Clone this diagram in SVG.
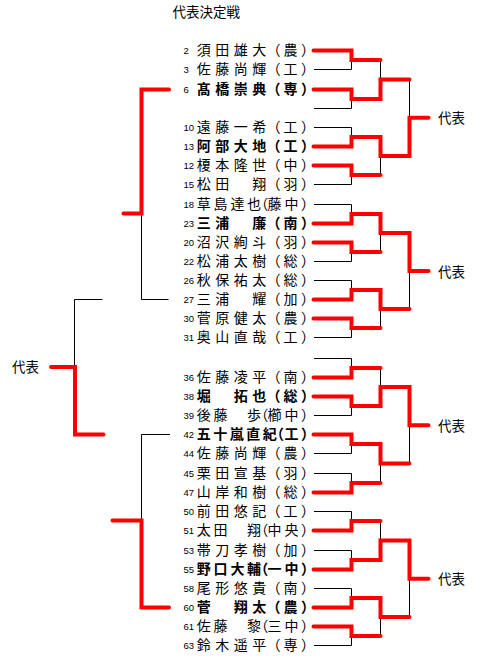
<svg xmlns="http://www.w3.org/2000/svg" width="479" height="661" viewBox="0 0 479 661">
<style>
.nm{font-family:"Noto Sans CJK JP","Noto Sans CJK SC",sans-serif;font-size:14px;fill:#000}
.b{font-weight:bold}
.no{font-family:"Liberation Sans",Arial,sans-serif;font-size:9.5px;fill:#000}
.lbl{font-family:"Noto Sans CJK JP","Noto Sans CJK SC",sans-serif;font-size:13.5px;fill:#000}
.r{fill:none;stroke:#ff0000;stroke-width:4;stroke-linecap:round;stroke-linejoin:miter}
.k{fill:none;stroke:#000;stroke-width:1}
</style>
<rect width="479" height="661" fill="#fff"/>
<text class="lbl" x="172.5" y="16.8">代表決定戦</text>
<g id="connectors">
<g class="k">
<path d="M314,69.5H351.5V60M314,108.5H351.5V99M314,127.5H351.5V137M314,184.5H351.5V175M380.5,60V79.5M380.5,175V156M409.5,79.5V117.75"/>
<path d="M314,204.5H351.5V214M314,261.5H351.5V252M314,280.5H351.5V290M314,337.5H351.5V328M380.5,252V233M380.5,328V309M409.5,309V271"/>
<path d="M314,358.5H351.5V368M314,415.5H351.5V406M314,453.5H351.5V444M314,473.5H351.5V483M380.5,368V387M380.5,483V463.5M409.5,463.5V425.25"/>
<path d="M314,511.5H351.5V521M314,550.5H351.5V560M314,588.5H351.5V598M314,645.5H351.5V636M380.5,521V540.5M380.5,636V617M409.5,617V578.75"/>
<path d="M141.5,213.5V299.5H168.5M102.5,299.5H74.5V367M170,434.5H141.5V520.5"/>
</g>
<g class="r">
<path d="M313.5,50.5H351.5V60H380.5"/>
<path d="M313.5,89.5H351.5V99H380.5V79.5H409.5"/>
<path d="M313.5,146.5H351.5V137H380.5V156H409.5V117.75H428.5"/>
<path d="M313.5,165.5H351.5V175H380.5"/>
<path d="M313.5,223.5H351.5V214H380.5V233H409.5V271H428.5"/>
<path d="M313.5,242.5H351.5V252H380.5"/>
<path d="M313.5,299.5H351.5V290H380.5V309H409.5"/>
<path d="M313.5,318.5H351.5V328H380.5"/>
<path d="M313.5,377.5H351.5V368H380.5"/>
<path d="M313.5,396.5H351.5V406H380.5V387H409.5V425.25H428.5"/>
<path d="M313.5,434.5H351.5V444H380.5V463.5H409.5"/>
<path d="M313.5,492.5H351.5V483H380.5"/>
<path d="M313.5,530.5H351.5V521H380.5"/>
<path d="M313.5,569.5H351.5V560H380.5V540.5H409.5V578.75H428.5"/>
<path d="M313.5,607.5H351.5V598H380.5V617H409.5"/>
<path d="M313.5,626.5H351.5V636H380.5"/>
<path d="M169,89.5H141.5V213.5H123.5"/>
<path d="M51,367H75V434.5H103.5"/>
<path d="M112.5,520.5H141.5V607.5H169"/>
</g>
</g>
<g id="labels">
<text class="lbl" x="438" y="123">代表</text>
<text class="lbl" x="438" y="276.5">代表</text>
<text class="lbl" x="438" y="430.5">代表</text>
<text class="lbl" x="438" y="584">代表</text>
<text class="lbl" x="12" y="372">代表</text>
</g>
<g id="p2"><text class="no" x="183.5" y="53.5">2</text><text class="nm" x="196.7 215.2 233.7 252.2 266.6 283.4 300.9" y="55">須田雄大（農）</text></g>
<g id="p3"><text class="no" x="183.5" y="72.5">3</text><text class="nm" x="196.7 215.2 233.7 252.2 266.6 283.4 300.9" y="74">佐藤尚輝（工）</text></g>
<g id="p6"><text class="no" x="183.5" y="92.5">6</text><text class="nm b" x="196.7 215.2 233.7 252.2 266.6 283.4 300.9" y="94">髙橋崇典（専）</text></g>
<g id="p10"><text class="no" x="183.5" y="130.5">10</text><text class="nm" x="196.7 215.2 233.7 252.2 266.6 283.4 300.9" y="132">遠藤一希（工）</text></g>
<g id="p13"><text class="no" x="183.5" y="149.5">13</text><text class="nm b" x="196.7 215.2 233.7 252.2 266.6 283.4 300.9" y="151">阿部大地（工）</text></g>
<g id="p12"><text class="no" x="183.5" y="168.5">12</text><text class="nm" x="196.7 215.2 233.7 252.2 266.6 283.4 300.9" y="170">榎本隆世（中）</text></g>
<g id="p15"><text class="no" x="183.5" y="187.5">15</text><text class="nm" x="196.7 215.2 233.7 252.2 266.6 283.4 300.9" y="189">松田　翔（羽）</text></g>
<g id="p18"><text class="no" x="183.5" y="207.5">18</text><text class="nm" x="196.7 213.6 230.4 247 254.3 267.4 284.6 300.9" y="209">草島達也（藤中）</text></g>
<g id="p23"><text class="no" x="183.5" y="226.5">23</text><text class="nm b" x="196.7 215.2 233.7 252.2 266.6 283.4 300.9" y="228">三浦　廉（南）</text></g>
<g id="p20"><text class="no" x="183.5" y="245.5">20</text><text class="nm" x="196.7 215.2 233.7 252.2 266.6 283.4 300.9" y="247">沼沢絢斗（羽）</text></g>
<g id="p22"><text class="no" x="183.5" y="264.5">22</text><text class="nm" x="196.7 215.2 233.7 252.2 266.6 283.4 300.9" y="266">松浦太樹（総）</text></g>
<g id="p26"><text class="no" x="183.5" y="283.5">26</text><text class="nm" x="196.7 215.2 233.7 252.2 266.6 283.4 300.9" y="285">秋保祐太（総）</text></g>
<g id="p27"><text class="no" x="183.5" y="302.5">27</text><text class="nm" x="196.7 215.2 233.7 252.2 266.6 283.4 300.9" y="304">三浦　耀（加）</text></g>
<g id="p30"><text class="no" x="183.5" y="321.5">30</text><text class="nm" x="196.7 215.2 233.7 252.2 266.6 283.4 300.9" y="323">菅原健太（農）</text></g>
<g id="p31"><text class="no" x="183.5" y="340.5">31</text><text class="nm" x="196.7 215.2 233.7 252.2 266.6 283.4 300.9" y="342">奥山直哉（工）</text></g>
<g id="p36"><text class="no" x="183.5" y="380.5">36</text><text class="nm" x="196.7 215.2 233.7 252.2 266.6 283.4 300.9" y="382">佐藤凌平（南）</text></g>
<g id="p38"><text class="no" x="183.5" y="399.5">38</text><text class="nm b" x="196.7 215.2 233.7 252.2 266.6 283.4 300.9" y="401">堀　拓也（総）</text></g>
<g id="p39"><text class="no" x="183.5" y="418.5">39</text><text class="nm" x="196.7 213.6 230.4 247 254.3 267.4 284.6 300.9" y="420">後藤　歩（櫛中）</text></g>
<g id="p42"><text class="no" x="183.5" y="437.5">42</text><text class="nm b" x="196.7 213.2 229.7 246.2 262.7 270.1 284.4 300.9" y="439">五十嵐直紀（工）</text></g>
<g id="p44"><text class="no" x="183.5" y="456.5">44</text><text class="nm" x="196.7 215.2 233.7 252.2 266.6 283.4 300.9" y="458">佐藤尚輝（農）</text></g>
<g id="p45"><text class="no" x="183.5" y="476.5">45</text><text class="nm" x="196.7 215.2 233.7 252.2 266.6 283.4 300.9" y="478">栗田宣基（羽）</text></g>
<g id="p47"><text class="no" x="183.5" y="495.5">47</text><text class="nm" x="196.7 215.2 233.7 252.2 266.6 283.4 300.9" y="497">山岸和樹（総）</text></g>
<g id="p50"><text class="no" x="183.5" y="514.5">50</text><text class="nm" x="196.7 215.2 233.7 252.2 266.6 283.4 300.9" y="516">前田悠記（工）</text></g>
<g id="p51"><text class="no" x="183.5" y="533.5">51</text><text class="nm" x="196.7 213.6 230.4 247 254.3 267.4 284.6 300.9" y="535">太田　翔（中央）</text></g>
<g id="p53"><text class="no" x="183.5" y="553.5">53</text><text class="nm" x="196.7 215.2 233.7 252.2 266.6 283.4 300.9" y="555">帯刀孝樹（加）</text></g>
<g id="p55"><text class="no" x="183.5" y="572.5">55</text><text class="nm b" x="196.7 213.6 230.4 247 254.3 267.4 284.6 300.9" y="574">野口大輔（一中）</text></g>
<g id="p58"><text class="no" x="183.5" y="591.5">58</text><text class="nm" x="196.7 215.2 233.7 252.2 266.6 283.4 300.9" y="593">尾形悠貴（南）</text></g>
<g id="p60"><text class="no" x="183.5" y="610.5">60</text><text class="nm b" x="196.7 215.2 233.7 252.2 266.6 283.4 300.9" y="612">菅　翔太（農）</text></g>
<g id="p61"><text class="no" x="183.5" y="629.5">61</text><text class="nm" x="196.7 213.6 230.4 247 254.3 267.4 284.6 300.9" y="631">佐藤　黎（三中）</text></g>
<g id="p63"><text class="no" x="183.5" y="648.5">63</text><text class="nm" x="196.7 215.2 233.7 252.2 266.6 283.4 300.9" y="650">鈴木遥平（専）</text></g>
</svg>
